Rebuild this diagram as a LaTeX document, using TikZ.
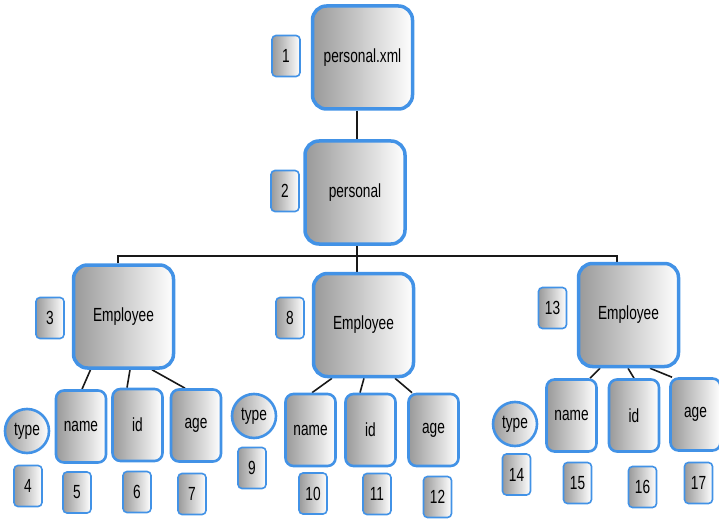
\documentclass[tikz,border=0pt]{standalone}
\usepackage{fontspec}
\setmainfont{Liberation Sans}[FakeStretch=0.72]
\usetikzlibrary{backgrounds}
\definecolor{bord}{RGB}{66,146,230}
\tikzset{
  base/.style={draw=bord, left color=black!40, right color=white, inner sep=0pt,
    font=\fontsize{19}{22}\selectfont, text=black},
  bigbox/.style={base, line width=3.5pt, rounded corners=14pt, minimum width=100pt, minimum height=103pt},
  midbox/.style={base, line width=2.6pt, rounded corners=8pt, minimum width=50pt, minimum height=72pt},
  numbox/.style={base, line width=1.6pt, rounded corners=4pt, minimum width=28pt, minimum height=41pt},
  typec/.style={base, circle, line width=2.6pt, minimum size=44pt},
  conn/.style={draw=black!90, line width=1.6pt}
}
\begin{document}
\begin{tikzpicture}[x=1pt,y=-1pt]
\useasboundingbox (0,0) rectangle (719,521);
% big boxes
\node[bigbox] (px) at (362.5,57.5) {personal.xml};
\node[bigbox] (personal) at (355,192.5) {personal};
\node[bigbox] (e1) at (123.5,316.5) {Employee};
\node[bigbox] (e2) at (363.5,325) {Employee};
\node[bigbox] (e3) at (628.5,315) {Employee};
% children
\node[midbox] (n1) at (81,426.5) {name};
\node[midbox] (i1) at (137.5,425) {id};
\node[midbox] (a1) at (196,425.5) {age};
\node[midbox] (n2) at (310.5,430) {name};
\node[midbox] (i2) at (370.5,430) {id};
\node[midbox] (a2) at (433.5,430) {age};
\node[midbox] (n3) at (571.5,415.5) {name};
\node[midbox] (i3) at (634,415.5) {id};
\node[midbox] (a3) at (695.5,414.5) {age};
% type circles
\node[typec] (t1) at (27,431) {type};
\node[typec] (t2) at (254,416) {type};
\node[typec] (t3) at (515,424) {type};
% number labels
\node[numbox] (l1) at (286,56) {1};
\node[numbox] (l2) at (285,191) {2};
\node[numbox] (l3) at (50,318) {3};
\node[numbox] (l4) at (28,486) {4};
\node[numbox] (l5) at (77,492.5) {5};
\node[numbox] (l6) at (137,492) {6};
\node[numbox] (l7) at (192,494) {7};
\node[numbox] (l8) at (290,318) {8};
\node[numbox] (l9) at (252,468) {9};
\node[numbox] (l10) at (313,493.5) {10};
\node[numbox] (l11) at (377,494) {11};
\node[numbox] (l12) at (437.5,497) {12};
\node[numbox] (l13) at (552.5,308) {13};
\node[numbox] (l14) at (516.5,474.5) {14};
\node[numbox] (l15) at (577.5,483) {15};
\node[numbox] (l16) at (642.5,487) {16};
\node[numbox] (l17) at (698.5,483) {17};
\begin{pgfonlayer}{background}
\draw[conn] ([xshift=-5.5pt]px.south) -- ([xshift=-5.5pt]px.south |- personal.north);
\coordinate (bus) at ([xshift=2pt]personal.south);
\draw[conn] (bus) -- ++(0,10) coordinate (busm);
\draw[conn] ([xshift=-5.5pt]e1.north) |- (busm) -| ([xshift=-11.5pt]e3.north);
\draw[conn] (busm) -- ([xshift=-6.5pt]e2.north);
% e1 children
\draw[conn] ([xshift=-33pt]e1.south) -- ([xshift=1pt]n1.north);
\draw[conn] ([xshift=6.5pt]e1.south) -- ([xshift=-10.5pt]i1.north);
\draw[conn] ([xshift=28.5pt]e1.south) -- ([xshift=-11pt]a1.north);
% e2 children
\draw[conn] ([xshift=-31.5pt]e2.south) -- ([xshift=1.5pt]n2.north);
\draw[conn] ([xshift=0.5pt]e2.south) -- ([xshift=-10.5pt]i2.north);
\draw[conn] ([xshift=31.5pt]e2.south) -- ([xshift=-21.5pt]a2.north);
% e3 children
\draw[conn] ([xshift=-28.5pt]e3.south) -- ([xshift=18.5pt]n3.north);
\draw[conn] ([xshift=-0.5pt]e3.south) -- (i3.north);
\draw[conn] ([xshift=21.5pt]e3.south) -- ([xshift=-23.5pt]a3.north);
\end{pgfonlayer}
\end{tikzpicture}
\end{document}
